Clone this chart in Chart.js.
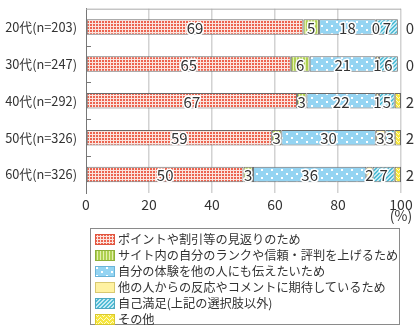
<!DOCTYPE html>
<html>
<head>
<meta charset="utf-8">
<script src="https://cdn.jsdelivr.net/npm/chart.js@4/dist/chart.umd.min.js"></script>
<style>
  body { margin: 0; background: #fff; font-family: "Noto Sans CJK JP", sans-serif; }
  #wrap { position: relative; width: 416px; height: 330px; }
  #chart { position: absolute; left: 0; top: 0; }
  #legend {
    position: absolute; left: 90px; top: 228px; width: 310px; height: 97px;
    border: 1px solid #8a8a8a; box-sizing: border-box; padding: 2px 0 0 4px;
  }
  .item { display: flex; align-items: center; height: 16px; font-size: 12.2px; color: #333; white-space: nowrap; }
  .item canvas { margin-right: 3px; }
</style>
</head>
<body>
<div id="wrap">
  <canvas id="chart" width="416" height="226"></canvas>
  <div id="legend"></div>
</div>
<script>
// 年代別の回答割合(%)
const ageGroups = ['20代(n=203)', '30代(n=247)', '40代(n=292)', '50代(n=326)', '60代(n=326)'];
const pointRedemption = [69, 65, 67, 59, 50];
const rankTrust = [5, 6, 3, 3, 3];
const shareExperience = [18, 21, 22, 30, 36];
const expectReaction = [0, 1, 1, 3, 2];
const selfSatisfaction = [7, 6, 5, 3, 7];
const otherReason = [0, 0, 2, 2, 2];
const seriesNames = [
  'ポイントや割引等の見返りのため',
  'サイト内の自分のランクや信頼・評判を上げるため',
  '自分の体験を他の人にも伝えたいため',
  '他の人からの反応やコメントに期待しているため',
  '自己満足(上記の選択肢以外)',
  'その他'
];
const xTicks = [0, 20, 40, 60, 80, 100];

// 塗りつぶし用のパターン
function makePattern(w, h, draw) {
  const c = document.createElement('canvas');
  c.width = w; c.height = h;
  const g = c.getContext('2d');
  draw(g, w, h);
  return document.createElement('canvas').getContext('2d').createPattern(c, 'repeat');
}

const patterns = [
  // 赤の格子
  makePattern(3, 3, (g) => {
    g.fillStyle = '#fbe4de'; g.fillRect(0, 0, 3, 3);
    g.fillStyle = '#ec6450'; g.fillRect(0, 0, 2, 2);
  }),
  // 緑の縦じま
  makePattern(3, 3, (g) => {
    g.fillStyle = '#e4f0b0'; g.fillRect(0, 0, 3, 3);
    g.fillStyle = '#aed050'; g.fillRect(0, 0, 2, 3);
  }),
  // 水色に白の水玉
  makePattern(10, 8, (g) => {
    g.fillStyle = '#94d4f2'; g.fillRect(0, 0, 10, 8);
    g.fillStyle = '#fff';
    g.fillRect(1, 1, 2, 2);
    g.fillRect(6, 5, 2, 2);
  }),
  // 薄い黄色
  '#fff2a2',
  // 水色の斜線
  makePattern(4, 4, (g) => {
    g.fillStyle = '#c6eaf4'; g.fillRect(0, 0, 4, 4);
    g.fillStyle = '#52bdd6';
    for (let i = 0; i < 4; i++) { g.fillRect((3 - i + 4) % 4, i, 2, 1); g.fillRect((3 - i + 5) % 4, i, 1, 1); }
  }),
  // 黄色のジグザグ
  makePattern(6, 4, (g) => {
    g.fillStyle = '#f6e63e'; g.fillRect(0, 0, 6, 4);
    g.fillStyle = '#fffbc8';
    g.fillRect(0, 0, 1, 1); g.fillRect(1, 1, 1, 1); g.fillRect(2, 2, 1, 1);
    g.fillRect(3, 1, 1, 1); g.fillRect(4, 0, 1, 1); g.fillRect(5, 3, 1, 1);
  })
];

const seriesValues = [pointRedemption, rankTrust, shareExperience, expectReaction, selfSatisfaction, otherReason];

// 縦軸の内側の目盛りと上端の線
const frameLines = {
  id: 'frameLines',
  afterDraw(chart) {
    const { ctx, chartArea, scales } = chart;
    const y = scales.y;
    ctx.save();
    ctx.strokeStyle = '#aaa';
    ctx.lineWidth = 1;
    ctx.beginPath();
    ctx.moveTo(chartArea.left, chartArea.top + 0.5);
    ctx.lineTo(chartArea.right, chartArea.top + 0.5);
    ctx.stroke();
    ctx.strokeStyle = '#777';
    ctx.beginPath();
    for (let i = 1; i < ageGroups.length; i++) {
      const py = Math.round((y.getPixelForValue(i - 1) + y.getPixelForValue(i)) / 2) + 0.5;
      ctx.moveTo(chartArea.left, py);
      ctx.lineTo(chartArea.left + 5, py);
    }
    ctx.stroke();
    ctx.fillStyle = '#333';
    ctx.font = '14px "Noto Sans CJK JP"';
    ctx.textAlign = 'center';
    ctx.textBaseline = 'middle';
    ctx.fillText('(%)', chartArea.right, 216);
    ctx.restore();
  }
};

// 各区分の数値ラベル
const valueLabels = {
  id: 'valueLabels',
  afterDatasetsDraw(chart) {
    const { ctx, chartArea } = chart;
    ctx.save();
    ctx.font = '15px "Noto Sans CJK JP"';
    ctx.textAlign = 'center';
    ctx.textBaseline = 'middle';
    ctx.lineJoin = 'round';
    chart.data.datasets.forEach((ds, di) => {
      const meta = chart.getDatasetMeta(di);
      meta.data.forEach((bar, i) => {
        const txt = String(ds.data[i]);
        if (di === chart.data.datasets.length - 1) {
          ctx.fillStyle = '#333';
          ctx.fillText(txt, chartArea.right + 9, bar.y + 1);
          return;
        }
        const cx = (bar.x + bar.base) / 2;
        ctx.strokeStyle = '#fff';
        ctx.lineWidth = 3;
        ctx.strokeText(txt, cx, bar.y + 1);
        ctx.fillStyle = '#333';
        ctx.fillText(txt, cx, bar.y + 1);
      });
    });
    ctx.restore();
  }
};

new Chart(document.getElementById('chart'), {
  type: 'bar',
  data: {
    labels: ageGroups,
    datasets: seriesValues.map((vals, i) => ({
      label: seriesNames[i],
      data: vals,
      backgroundColor: patterns[i],
      borderColor: '#6a6a6a',
      borderWidth: 1,
      borderSkipped: false,
      barPercentage: 0.42,
      categoryPercentage: 1
    }))
  },
  options: {
    indexAxis: 'y',
    responsive: false,
    animation: false,
    layout: { padding: { top: 3, right: 15, left: 0, bottom: 0 } },
    plugins: { legend: { display: false }, tooltip: { enabled: false } },
    scales: {
      x: {
        stacked: true,
        min: 0,
        max: 100,
        afterBuildTicks: (axis) => { axis.ticks = xTicks.map(v => ({ value: v })); },
        afterFit: (axis) => { axis.height = 33; },
        grid: {
          color: (c) => c.tick && c.tick.value === 0 ? 'rgba(0,0,0,0)' : '#d2d2d2',
          lineWidth: 1.5,
          drawTicks: false
        },
        border: { display: false },
        ticks: { color: '#333', font: { size: 14, family: '"Noto Sans CJK JP"' }, padding: 3, maxRotation: 0 }
      },
      y: {
        stacked: true,
        afterFit: (axis) => { axis.width = 86; },
        grid: { display: false },
        border: { display: true, color: '#777', width: 1 },
        ticks: { color: '#333', font: { size: 12.8, family: '"Noto Sans CJK JP"' }, padding: 1 }
      }
    }
  },
  plugins: [frameLines, valueLabels]
});

// 凡例
const legend = document.getElementById('legend');
seriesNames.forEach((name, i) => {
  const row = document.createElement('div');
  row.className = 'item';
  const sw = document.createElement('canvas');
  sw.width = 20; sw.height = 11;
  const g = sw.getContext('2d');
  g.fillStyle = patterns[i];
  g.fillRect(0, 0, 20, 11);
  g.strokeStyle = ['#e0553f', '#8eb03a', '#6ab4d8', '#d8c870', '#4fa8c0', '#d8c830'][i];
  g.strokeRect(0.5, 0.5, 19, 10);
  row.appendChild(sw);
  const span = document.createElement('span');
  span.textContent = name;
  row.appendChild(span);
  legend.appendChild(row);
});
</script>
</body>
</html>
